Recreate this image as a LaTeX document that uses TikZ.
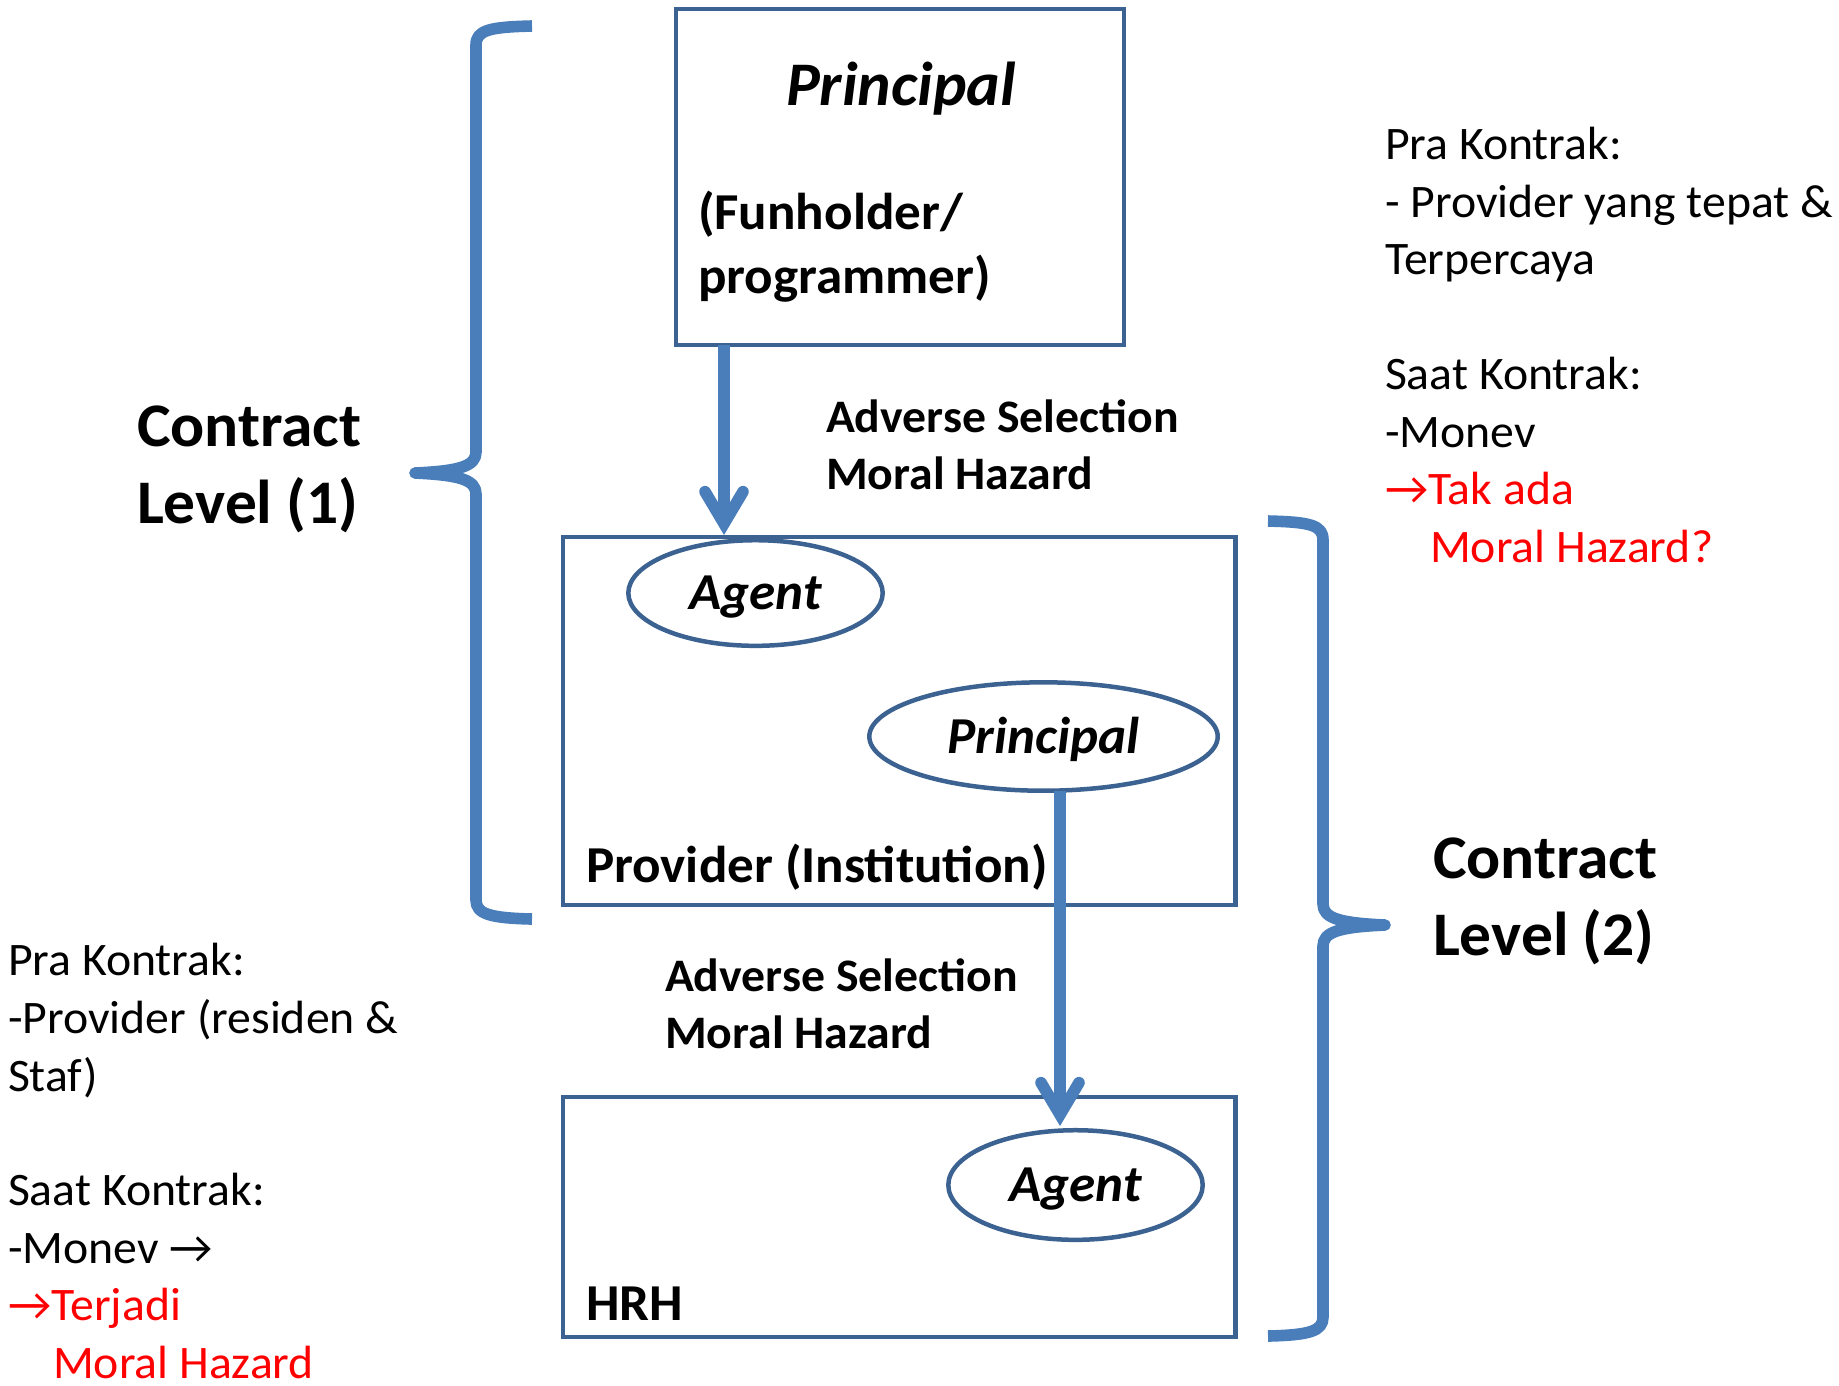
\documentclass[tikz,border=0pt]{standalone}
\usepackage{fontspec}
\setmainfont[FakeStretch=1.025]{Carlito}
\usetikzlibrary{arrows.meta,shapes.geometric}
\definecolor{boxblue}{RGB}{60,98,146}
\definecolor{linkblue}{RGB}{74,126,187}
\definecolor{alertred}{RGB}{255,0,0}
\tikzset{
  box/.style={rectangle, draw=boxblue, line width=1.125pt, inner sep=0pt, outer sep=0pt},
  oval/.style={ellipse, draw=boxblue, line width=1.125pt, inner sep=0pt, outer sep=0pt,
    font=\fontsize{12.95}{16}\selectfont\bfseries\itshape, text height=8.3pt, text depth=0pt},
  link/.style={draw=linkblue, line width=2.9pt,
    -{Straight Barb[length=8pt 0, width=9.5pt 0, line cap=round]}},
  brace/.style={draw=linkblue, line width=2.9pt, line join=round, line cap=butt},
  tsmall/.style={inner sep=0pt, outer sep=0pt, anchor=base west, font=\fontsize{11.65}{14.2}\selectfont},
  tsmallb/.style={tsmall, font=\fontsize{11.65}{14.2}\selectfont\bfseries},
  tmid/.style={inner sep=0pt, outer sep=0pt, anchor=base west, font=\fontsize{12.95}{16}\selectfont\bfseries},
  tbig/.style={inner sep=0pt, outer sep=0pt, anchor=base west, font=\fontsize{15.5}{19.25}\selectfont\bfseries},
  red/.style={text=alertred}
}
\begin{document}
\begin{tikzpicture}[x=0.25pt,y=-0.25pt]
\useasboundingbox (0,0) rectangle (1839,1385);

% boxes
\node[box, minimum width=112pt, minimum height=84pt] (tbox) at (900,177) {};
\node[box, minimum width=168.15pt, minimum height=92pt] (pbox) at (899.3,721) {};
\node[box, minimum width=168.15pt, minimum height=60pt] (hbox) at (899.3,1217) {};

% ellipses
\node[oval, minimum width=63.6pt, minimum height=26.4pt] (agent1) at (755.5,593) {Agent};
\node[oval, minimum width=87.1pt, minimum height=27.1pt] (princ2) at (1043.5,736.5) {Principal};
\node[oval, minimum width=63.6pt, minimum height=27.4pt] (agent2) at (1075.5,1185) {Agent};

% texts in the top box
\node[tbig, anchor=base, font=\fontsize{15.5}{19.25}\selectfont\bfseries\itshape] (ptitle) at (901,105) {Principal};
\node[tmid] (fund1) at (698,229) {(Funholder/};
\node[tmid] (fund2) at (698,293) {programmer)};

% labels of the boxes
\node[tmid] (provlbl) at (586,882) {Provider (Institution)};
\node[tmid] (hrhlbl) at (586,1320) {HRH};

% arrow labels
\node[tsmallb] (as1) at (826,432) {Adverse Selection};
\node[tsmallb] (mh1) at (826,489) {Moral Hazard};
\node[tsmallb] (as2) at (665,991) {Adverse Selection};
\node[tsmallb] (mh2) at (665,1048) {Moral Hazard};

% connectors
\coordinate (tip1) at (724,535);
\coordinate (tip2) at (1060,1126);
\draw[link] (tip1 |- tbox.south) -- (tip1);
\draw[link] (tip2 |- princ2.south) -- (tip2);

% braces
\draw[brace] (532,26) .. controls (490,27) and (476,30) .. (476,45)
  -- (476,452) .. controls (476,466) and (460,471) .. (415,473)
  .. controls (460,475) and (476,480) .. (476,494)
  -- (476,900) .. controls (476,914) and (490,918) .. (532,919);
\draw[brace] (1268,521) .. controls (1310,522) and (1323,525) .. (1323,540)
  -- (1323,904) .. controls (1323,918) and (1339,923) .. (1385,925)
  .. controls (1339,927) and (1323,932) .. (1323,946)
  -- (1323,1317) .. controls (1323,1331) and (1310,1335) .. (1268,1336);

% contract levels
\node[tbig] (cl1a) at (137,446) {Contract};
\node[tbig] (cl1b) at (137,523) {Level (1)};
\node[tbig] (cl2a) at (1433,878.5) {Contract};
\node[tbig] (cl2b) at (1433,955) {Level (2)};

% right notes
\node[tsmall] (r1) at (1385,159) {Pra Kontrak:};
\node[tsmall] (r2) at (1385,217) {- Provider yang tepat \&};
\node[tsmall] (r3) at (1385,274) {Terpercaya};
\node[tsmall] (r4) at (1385,389) {Saat Kontrak:};
\node[tsmall] (r5) at (1385,447) {-Monev};
\node[tsmall, red] (r6) at (1385,504) {→Tak ada};
\node[tsmall, red] (r7) at (1430,562) {Moral Hazard?};

% left notes
\node[tsmall] (l1) at (8,975) {Pra Kontrak:};
\node[tsmall] (l2) at (8,1033) {-Provider (residen \&};
\node[tsmall] (l3) at (8,1091) {Staf)};
\node[tsmall] (l4) at (8,1205) {Saat Kontrak:};
\node[tsmall] (l5) at (8,1263) {-Monev →};
\node[tsmall, red] (l6) at (8,1320) {→Terjadi};
\node[tsmall, red] (l7) at (53,1378) {Moral Hazard};
\end{tikzpicture}
\end{document}
